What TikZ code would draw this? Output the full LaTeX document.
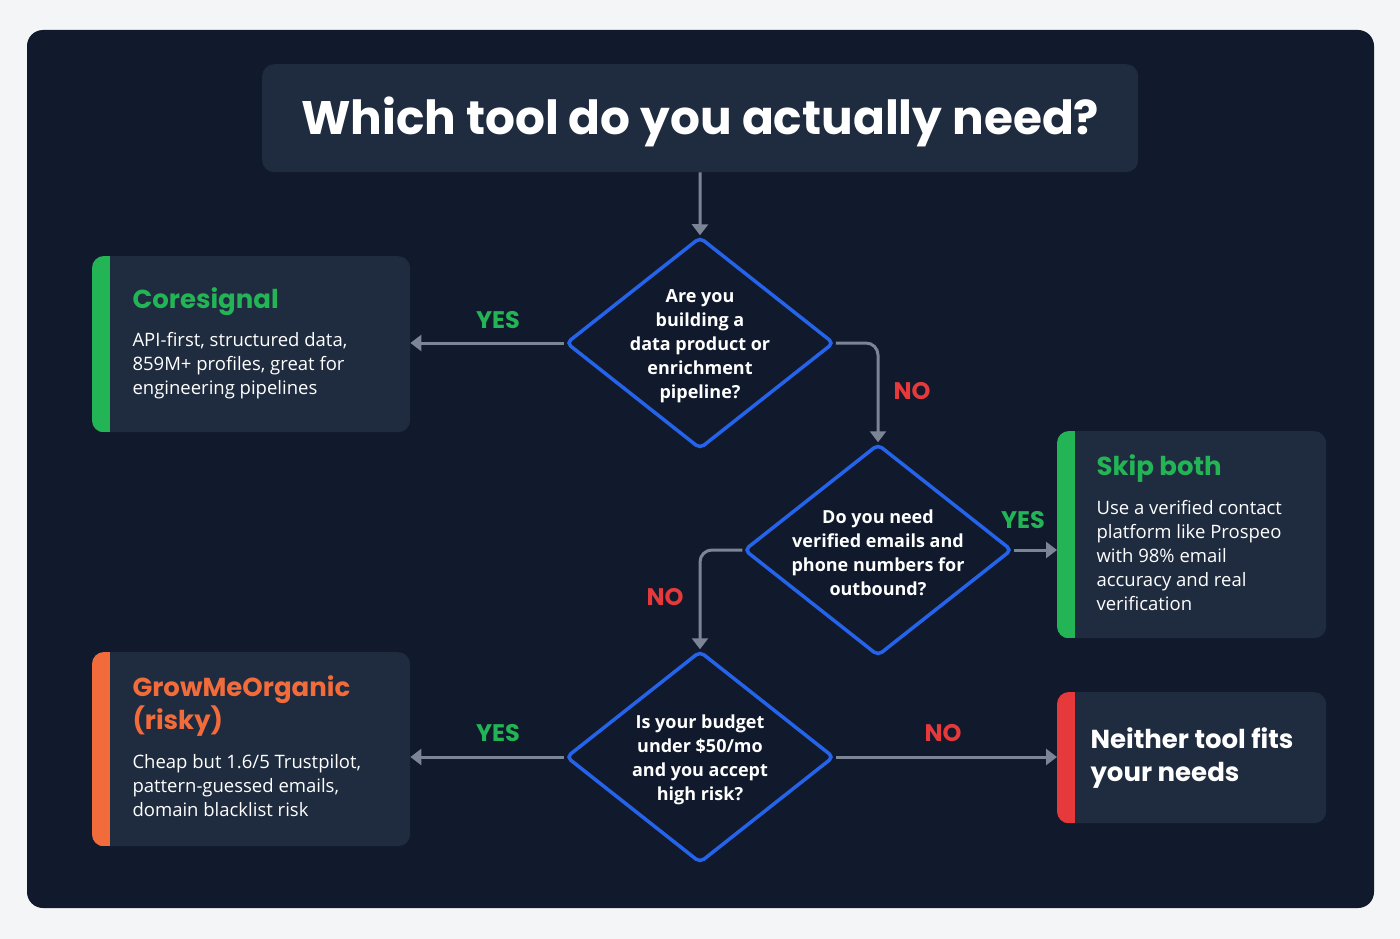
\documentclass[tikz,border=0pt]{standalone}
\usepackage{fontspec}
\setmainfont{Open Sans}
\newfontfamily\hfont{Poppins}
\usetikzlibrary{shapes.geometric,arrows.meta}
\definecolor{bgpage}{HTML}{F4F5F7}
\definecolor{panel}{HTML}{111A2C}
\definecolor{card}{HTML}{1F2B3E}
\definecolor{dblue}{HTML}{2563EB}
\definecolor{arr}{HTML}{7B8596}
\definecolor{ygreen}{HTML}{22B455}
\definecolor{nred}{HTML}{E5393B}
\definecolor{org}{HTML}{F26B3A}
\begin{document}
\begin{tikzpicture}[x=1pt,y=-1pt,
  dia/.style={diamond,draw=dblue,line width=3.5pt,fill=panel,inner sep=0,minimum width=268pt,minimum height=212pt,rounded corners=5pt},
  dtxt/.style={text=white,align=center,font=\bfseries\fontsize{18}{24}\selectfont,yshift=-3pt},
  card/.style={rectangle,rounded corners=12pt,fill=card,inner sep=0,anchor=north west},
  btxt/.style={text=white,align=left,anchor=north west,font=\fontsize{18.5}{24}\selectfont},
  head/.style={anchor=north west,align=left,font=\hfont\bfseries\fontsize{26}{33}\selectfont},
  con/.style={arr,line width=3pt,-{Triangle[length=11pt,width=16pt]},rounded corners=12pt},
  lab/.style={font=\hfont\bfseries\fontsize{24}{28}\selectfont}]
\useasboundingbox (0,0) rectangle (1400,939);
\fill[bgpage] (0,0) rectangle (1400,939);
\fill[panel,rounded corners=16pt] (27,30) rectangle (1374,908);
\node[card,minimum width=876pt,minimum height=108pt] (title) at (262,64) {};
\node[text=white,font=\hfont\bfseries\fontsize{47}{52}\selectfont,yshift=-4pt] (tt) at (title.center) {Which tool do you actually need?};
\node[dia] (d1) at (700,343) {};
\node[dtxt] (d1t) at (d1.center) {Are you\\building a\\data product or\\enrichment\\pipeline?};
\node[dia] (d2) at (878,550) {};
\node[dtxt] (d2t) at (d2.center) {Do you need\\verified emails and\\phone numbers for\\outbound?};
\node[dia] (d3) at (700,757) {};
\node[dtxt] (d3t) at (d3.center) {Is your budget\\under \$50/mo\\and you accept\\high risk?};
% cards
\newcommand{\mycard}[6]{%
 \node[card,minimum width=#3,minimum height=#4] (#1) at (#2) {};
 \begin{scope}
 \clip[rounded corners=12pt] (#1.north west) rectangle (#1.south east);
 \fill[#5] (#1.north west) rectangle ([xshift=18pt]#1.south west);
 \end{scope}}
\mycard{cs}{92,256}{318pt}{176pt}{ygreen}{}
\node[head,text=ygreen] (csh) at (129,284) {Coresignal};
\node[btxt] (csb) at (129,329) {API-first, structured data,\\859M+ profiles, great for\\engineering pipelines};
\mycard{sk}{1057,431}{269pt}{207pt}{ygreen}{}
\node[head,text=ygreen] (skh) at (1093,451) {Skip both};
\node[btxt] (skb) at (1093,497) {Use a verified contact\\platform like Prospeo\\with 98\% email\\accuracy and real\\verification};
\mycard{gm}{92,652}{318pt}{194pt}{org}{}
\node[head,text=org] (gmh) at (129,672) {GrowMeOrganic\\(risky)};
\node[btxt] (gmb) at (129,751) {Cheap but 1.6/5 Trustpilot,\\pattern-guessed emails,\\domain blacklist risk};
\mycard{ne}{1057,692}{269pt}{131pt}{nred}{}
\node[head,text=white,anchor=west] (neh) at (1087,758) {Neither tool fits\\your needs};
% connectors
\draw[con] (title.south) -- (d1.north);
\draw[con] (d1.west) -- (cs.east|-d1.west);
\draw[con] (d1.east) -| (d2.north);
\draw[con] (d2.east) -- (sk.west|-d2.east);
\draw[con] (d2.west) -| (d3.north);
\draw[con] (d3.west) -- (gm.east|-d3.west);
\draw[con] (d3.east) -- (ne.west|-d3.east);
\node[lab,text=ygreen] (l1) at (498,320) {YES};
\node[lab,text=nred] (l2) at (912,391) {NO};
\node[lab,text=ygreen] (l3) at (1023,520) {YES};
\node[lab,text=nred] (l4) at (665,597) {NO};
\node[lab,text=ygreen] (l5) at (498,733) {YES};
\node[lab,text=nred] (l6) at (943,733) {NO};
\end{tikzpicture}
\end{document}
